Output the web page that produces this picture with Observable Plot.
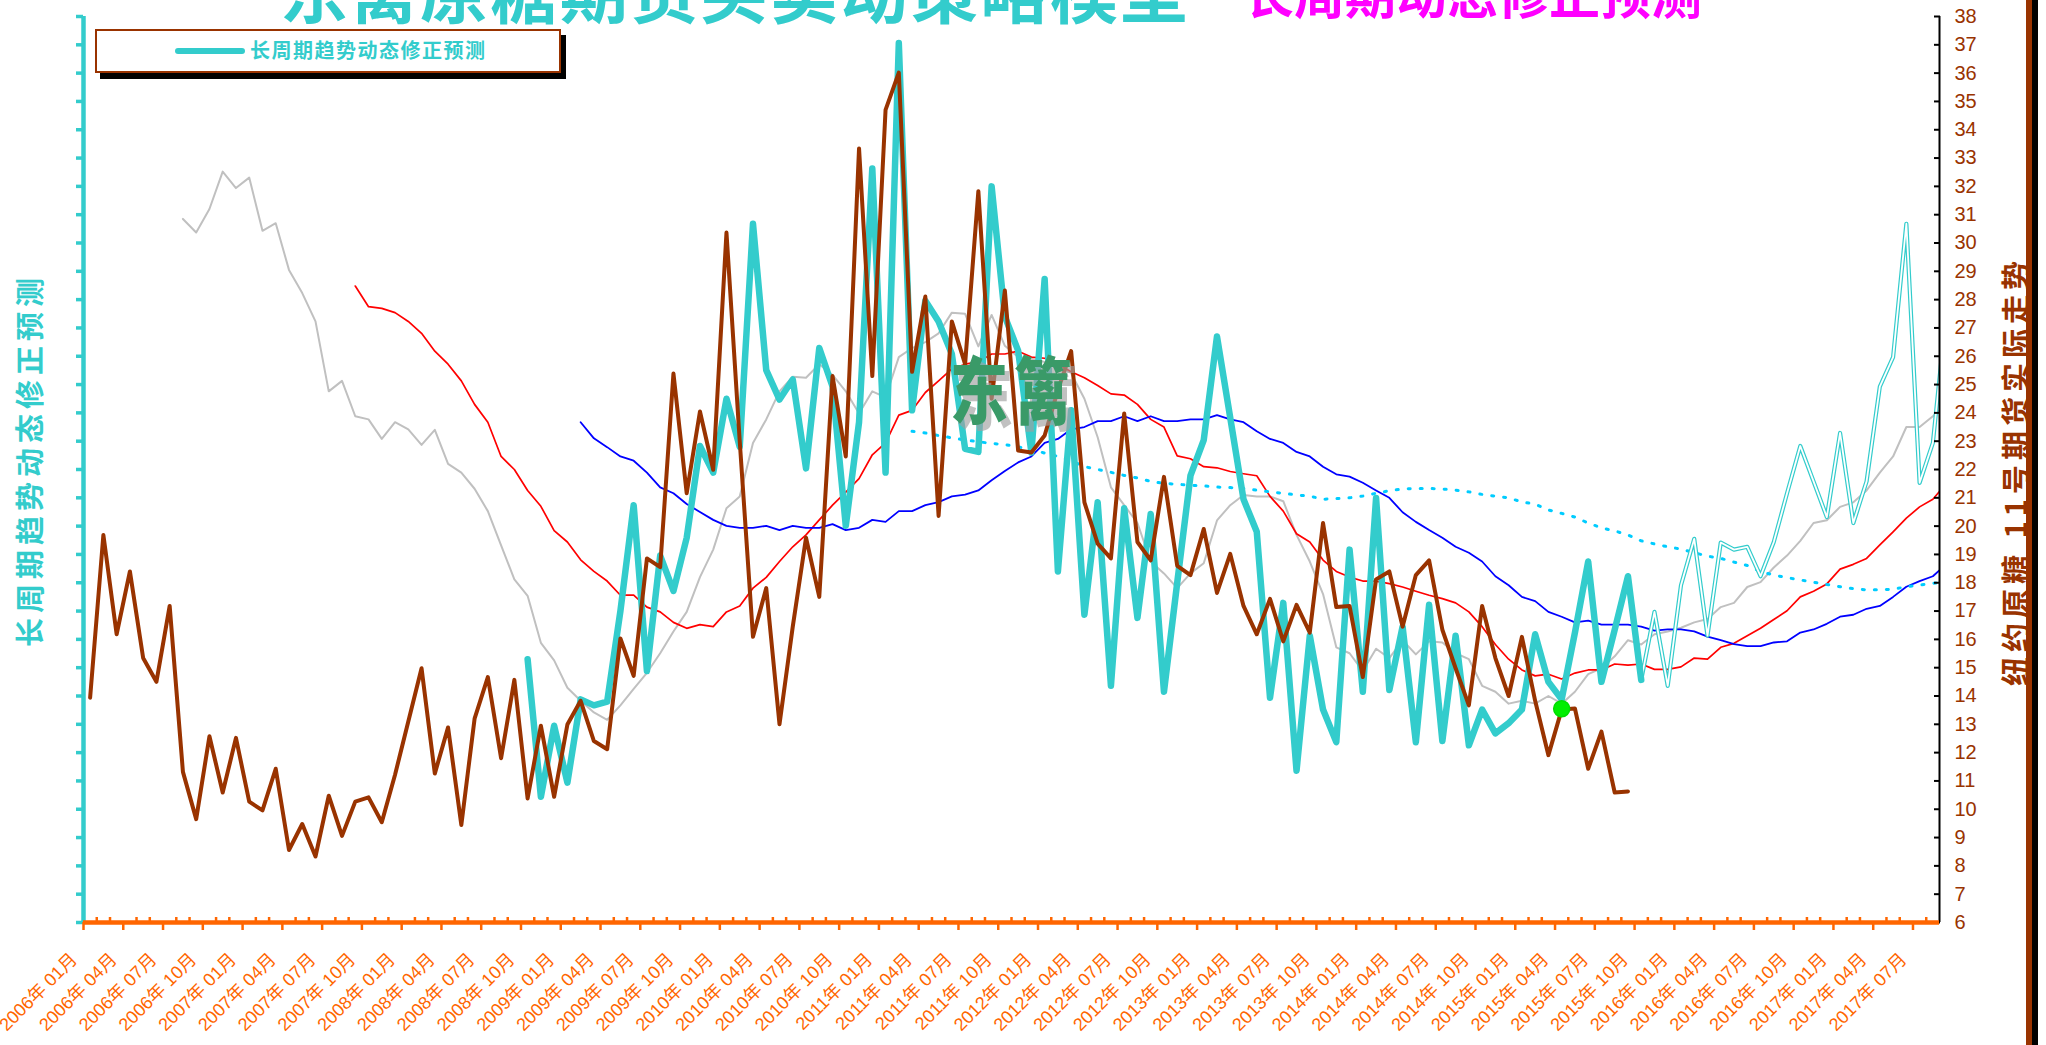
<!DOCTYPE html>
<html>
<head>
<meta charset="utf-8">
<script src="https://cdn.jsdelivr.net/npm/d3@7"></script>
<script src="https://cdn.jsdelivr.net/npm/@observablehq/plot@0.6"></script>
<style>
  html, body { margin: 0; padding: 0; background: #fff; overflow: hidden; }
  #wrap { position: relative; width: 2046px; height: 1045px; overflow: hidden; background: #fff;
          font-family: "Noto Sans CJK SC", "Liberation Sans", sans-serif; }
  #chart { position: absolute; left: 0; top: 0; }
  .abs { position: absolute; white-space: nowrap; line-height: 1; }
  #t1 { left: 280px; top: -45px; font-size: 68px; font-weight: 700; color: #33CCCC; letter-spacing: 2px; }
  #t2 { left: 1243px; top: -33px; font-size: 51px; font-weight: 700; color: #FF00FF; }
  #legend { position: absolute; left: 95px; top: 29px; width: 462px; height: 40px; background: #fff;
            border: 2px solid #993300; box-shadow: 5px 6px 0 #000; }
  #legline { position: absolute; left: 78px; top: 17px; width: 70px; height: 6px; border-radius: 3px; background: #33CCCC; }
  #legtext { position: absolute; left: 153px; top: 9px; font-size: 20px; font-weight: 700; color: #33CCCC; letter-spacing: 1.5px; line-height: 1; }
  #ytl { left: 28px; top: 460px; transform: translate(-50%, -50%) rotate(-90deg); font-size: 29px; font-weight: 700;
         color: #33CCCC; letter-spacing: 5px; }
  #ytr { left: 2014px; top: 471px; transform: translate(-50%, -50%) rotate(-90deg); font-size: 29px; font-weight: 700;
         color: #993300; letter-spacing: 5px; }
  #wm { left: 950px; top: 350px; font-size: 58px; font-weight: 900; color: #3a9a68; letter-spacing: 6px;
        transform: scaleY(1.25); transform-origin: top left; text-shadow: 5px 5px 0 rgba(160,160,160,0.65); }
  #barB { position: absolute; left: 2026px; top: 0; width: 6px; height: 1045px; background: #993300; }
  #barK { position: absolute; left: 2032px; top: 0; width: 6px; height: 1045px; background: #000; }
</style>
</head>
<body>
<div id="wrap">
  <div id="chart"></div>
  <div class="abs" id="t1">东篱原糖期货买卖动策略模型</div>
  <div class="abs" id="t2">长周期动态修正预测</div>
  <div id="legend"><div id="legline"></div><div id="legtext">长周期趋势动态修正预测</div></div>
  <div class="abs" id="ytl">长周期趋势动态修正预测</div>
  <div class="abs" id="ytr">纽约原糖 11号期货实际走势</div>
  <div class="abs" id="wm">东篱</div>
  <div id="barB"></div><div id="barK"></div>
</div>
<script>
// ---- month categories: index 0 = 2006-01 ----
const xDomain = [-0.5, 139.5];
const yDomain = [6, 38];
const yTicks = d3.range(6, 39);

const xTickLabels = [
  "2006年 01月","2006年 04月","2006年 07月","2006年 10月",
  "2007年 01月","2007年 04月","2007年 07月","2007年 10月",
  "2008年 01月","2008年 04月","2008年 07月","2008年 10月",
  "2009年 01月","2009年 04月","2009年 07月","2009年 10月",
  "2010年 01月","2010年 04月","2010年 07月","2010年 10月",
  "2011年 01月","2011年 04月","2011年 07月","2011年 10月",
  "2012年 01月","2012年 04月","2012年 07月","2012年 10月",
  "2013年 01月","2013年 04月","2013年 07月","2013年 10月",
  "2014年 01月","2014年 04月","2014年 07月","2014年 10月",
  "2015年 01月","2015年 04月","2015年 07月","2015年 10月",
  "2016年 01月","2016年 04月","2016年 07月","2016年 10月",
  "2017年 01月","2017年 04月","2017年 07月"
];

// 纽约原糖 11号 实际走势 (starts 2006-01)
const actualStart = 0;
const actual = [
  13.94,19.69,16.18,18.4,15.34,14.5,17.18,11.32,9.65,12.58,
  10.59,12.52,10.27,9.96,11.43,8.56,9.48,8.33,10.48,9.06,
  10.27,10.42,9.54,11.22,13.1,14.98,11.26,12.89,9.44,13.2,
  14.67,11.8,14.57,10.38,12.95,10.44,12.99,13.83,12.41,12.12,
  16.03,14.71,18.86,18.55,25.39,21.16,24.05,21.99,30.37,23.0,
  16.09,17.81,13.0,16.45,19.59,17.5,25.3,22.46,33.34,25.3,
  34.7,36.02,25.45,28.11,20.36,27.23,25.72,31.83,24.5,28.32,
  22.67,22.6,23.2,24.8,26.18,20.84,19.38,18.86,23.98,19.44,
  18.79,21.74,18.6,18.27,19.9,17.64,19.02,17.18,16.18,17.43,
  15.93,17.22,16.24,20.11,17.14,17.18,14.67,18.12,18.4,16.45,
  18.27,18.79,16.34,14.98,13.67,17.18,15.34,14.0,16.09,13.83,
  11.91,13.52,13.56,11.43,12.74,10.59,10.63
];

// 长周期趋势动态修正预测 (thick, starts 2008-10)
const forecastStart = 33;
const forecast = [
  15.3,10.44,12.95,10.94,13.88,13.67,13.8,
  17.0,20.74,14.88,18.96,17.71,19.59,22.83,21.89,24.5,22.8,
  30.68,25.51,24.47,25.18,22.04,26.29,24.93,20.01,23.67,32.63,
  21.89,37.06,24.09,27.96,27.23,26.08,22.73,22.62,32.0,27.4,
  26.2,22.6,28.73,18.4,24.09,16.87,20.84,14.36,20.63,16.76,
  20.43,14.15,18.0,21.78,23.04,26.7,23.83,20.95,19.8,13.94,
  17.29,11.36,16.13,13.52,12.37,19.17,14.15,20.99,14.21,16.45,
  12.37,17.22,12.41,16.13,12.26,13.52,12.68,13.04,13.52,16.18,
  14.5,13.88,16.24,18.75,14.5,16.34,18.23,14.57
];

// forward projection (double outline line, starts 2015-10)
const projectionStart = 117;
const projection = [
  14.57,16.97,14.36,17.91,19.55,16.13,19.42,19.17,19.27,18.23,
  19.44,21.16,22.83,21.58,20.32,23.29,20.11,21.58,24.93,25.97,
  30.68,21.53,22.94,27.5
];

// gray average (starts 2006-08)
const grayStart = 7;
const gray = [
  30.85,30.37,31.2,
  32.52,31.94,32.31,30.43,30.7,29.05,28.23,27.23,24.76,25.13,
  23.88,23.77,23.08,23.67,23.42,22.87,23.4,22.2,21.89,21.32,
  20.53,19.32,18.12,17.54,15.88,15.26,14.29,13.83,13.42,13.16,
  13.67,14.25,14.82,15.51,16.28,16.97,18.2,19.17,20.63,21.05,
  22.94,23.77,24.76,25.28,25.24,25.72,25.34,24.76,23.98,24.76,
  24.55,25.97,26.29,26.5,26.81,27.54,27.5,26.35,27.46,26.37,
  25.97,25.9,25.8,25.7,25.4,24.5,23.14,21.37,20.74,20.11,
  18.75,18.33,17.81,18.33,18.69,20.2,20.74,21.1,21.05,21.05,
  20.88,19.69,18.75,17.6,15.72,15.51,14.88,15.67,15.34,15.97,
  15.47,15.93,15.89,15.51,15.3,14.36,14.15,13.73,13.83,13.73,
  14.0,13.73,14.15,14.77,14.98,15.4,15.97,15.82,16.18,16.28,
  16.41,16.6,16.72,17.14,17.29,17.85,18.02,18.54,18.96,19.48,
  20.11,20.21,20.68,20.84,21.26,21.89,22.46,23.5,23.5,23.88,
  24.3
];

// red average (starts 2007-09)
const redStart = 20;
const red = [
  28.48,27.75,27.69,27.54,27.23,26.81,26.18,25.72,25.13,24.3,
  23.67,22.46,22.0,21.26,20.7,19.84,19.44,18.81,18.4,18.06,
  17.56,17.56,17.14,16.97,16.6,16.39,16.52,16.45,16.97,17.18,
  17.81,18.19,18.75,19.27,19.69,20.22,20.74,21.2,21.68,22.52,
  22.94,23.92,24.09,24.72,25.13,25.55,25.72,25.8,26.08,26.08,
  26.18,25.97,25.93,25.72,25.45,25.24,24.97,24.67,24.63,24.3,
  23.77,23.5,22.48,22.38,22.1,22.06,21.93,21.85,21.78,21.05,
  20.53,19.73,19.44,18.8,18.4,18.2,18.06,18.06,17.97,17.85,
  17.7,17.56,17.44,17.29,16.97,16.45,15.82,15.3,14.92,14.71,
  14.77,14.6,14.81,14.92,14.92,15.13,15.09,15.13,14.94,14.94,
  15.03,15.34,15.3,15.72,15.86,16.13,16.39,16.7,17.01,17.5,
  17.7,17.96,18.48,18.65,18.86,19.34,19.8,20.28,20.68,20.95,
  21.5
];

// blue average (starts 2009-02)
const blueStart = 37;
const blue = [
  23.67,23.1,22.79,
  22.46,22.31,21.89,21.37,21.16,20.78,20.5,20.22,20.01,19.94,
  19.94,20.01,19.86,20.01,19.94,19.94,20.07,19.86,19.94,20.22,
  20.15,20.53,20.53,20.74,20.85,21.05,21.11,21.26,21.62,21.95,
  22.25,22.46,22.94,23.08,23.42,23.5,23.71,23.71,23.88,23.71,
  23.88,23.71,23.71,23.77,23.77,23.92,23.77,23.67,23.35,23.08,
  22.94,22.62,22.46,22.1,21.83,21.75,21.53,21.26,21.0,20.49,
  20.15,19.86,19.59,19.27,19.06,18.75,18.23,17.91,17.5,17.35,
  16.97,16.8,16.6,16.66,16.52,16.52,16.52,16.45,16.31,16.35,
  16.35,16.28,16.1,15.97,15.83,15.76,15.76,15.89,15.93,16.24,
  16.35,16.55,16.8,16.87,17.08,17.18,17.5,17.86,18.06,18.23,
  18.65
];

// cyan dotted average (starts 2011-03)
const dottedStart = 62;
const dotted = [
  23.35,23.29,23.2,23.12,23.04,22.98,22.92,22.88,
  22.8,22.71,22.58,22.46,22.31,22.1,22.0,21.9,21.79,21.7,
  21.58,21.51,21.48,21.44,21.42,21.38,21.36,21.33,21.27,21.21,
  21.16,21.1,21.06,20.95,20.97,21.0,21.06,21.16,21.25,21.31,
  21.33,21.33,21.31,21.27,21.21,21.12,21.06,21.0,20.85,20.78,
  20.57,20.45,20.32,20.11,19.94,19.83,19.69,19.48,19.37,19.27,
  19.19,19.06,18.94,18.86,18.73,18.61,18.4,18.27,18.18,18.1,
  18.02,17.94,17.86,17.79,17.75,17.75,17.77,17.86,17.92,17.98,
  18.02
];

// green signal point
const signalIndex = [111];
const signalValue = [13.55];

// ---- build tables ----
const rows = (start, arr) => arr.map((v, k) => ({i: start + k, v}));
const labelRows = xTickLabels.map((label, k) => ({i: k * 3, label}));
const majorBounds = d3.range(0, 141, 3).map(i => i - 0.5);
const minorBounds = d3.range(0, 140).filter(i => i % 3 !== 0).map(i => i - 0.5);
const signalRows = signalIndex.map((i, k) => ({i, v: signalValue[k]}));

const ORANGE = "#FF6600", TEAL = "#33CCCC", BROWN = "#993300";
const L = {x: "i", y: "v", clip: true};

const chart = Plot.plot({
  width: 2046,
  height: 1045,
  marginLeft: 83,
  marginRight: 107,
  marginTop: 16,
  marginBottom: 123,
  style: {background: "transparent", fontFamily: "'Liberation Sans', 'Noto Sans CJK SC', sans-serif"},
  x: {type: "linear", domain: xDomain, axis: null},
  y: {type: "linear", domain: yDomain, axis: null},
  marks: [
    Plot.line(rows(grayStart, gray), {...L, stroke: "#C0C0C0", strokeWidth: 2}),
    Plot.line(rows(redStart, red), {...L, stroke: "#FF0000", strokeWidth: 1.7}),
    Plot.line(rows(blueStart, blue), {...L, stroke: "#0000FF", strokeWidth: 1.8}),
    Plot.line(rows(dottedStart, dotted), {...L, stroke: "#00CCFF", strokeWidth: 3, strokeDasharray: "2,10"}),
    Plot.line(rows(projectionStart, projection), {...L, stroke: TEAL, strokeWidth: 4.2}),
    Plot.line(rows(projectionStart, projection), {...L, stroke: "#FFFFFF", strokeWidth: 1.8}),
    Plot.line(rows(forecastStart, forecast), {...L, stroke: TEAL, strokeWidth: 6.5}),
    Plot.line(rows(actualStart, actual), {...L, stroke: BROWN, strokeWidth: 4}),
    Plot.dot(signalRows, {x: "i", y: "v", r: 8, fill: "#00EE00", stroke: "#00DD00"}),

    // left axis (teal, ticks only)
    Plot.ruleX([xDomain[0]], {stroke: TEAL, strokeWidth: 4.5}),
    Plot.axisY({anchor: "left", ticks: yTicks, tickSize: 7, tickFormat: () => "", stroke: TEAL, strokeWidth: 3.5, label: null}),

    // right axis (black, inward ticks, brown labels)
    Plot.ruleX([xDomain[1]], {stroke: "#000", strokeWidth: 2}),
    Plot.axisY({anchor: "right", ticks: yTicks, tickSize: 6, dx: -6, tickFormat: () => "", stroke: "#000", strokeWidth: 2, label: null}),
    Plot.axisY({anchor: "right", ticks: yTicks, tickSize: 0, tickPadding: 15, fill: BROWN, fontSize: 20, label: null}),

    // bottom axis (orange)
    Plot.ruleY([yDomain[0]], {stroke: ORANGE, strokeWidth: 4.5}),
    Plot.axisX({anchor: "bottom", ticks: majorBounds, tickSize: 8, tickFormat: () => "", stroke: ORANGE, strokeWidth: 2.5, label: null}),
    Plot.axisX({anchor: "bottom", ticks: minorBounds, tickSize: 5, dy: -5, tickFormat: () => "", stroke: ORANGE, strokeWidth: 2.5, label: null}),
    Plot.text(labelRows, {x: "i", frameAnchor: "bottom", text: "label", rotate: -45, textAnchor: "end",
                          dx: -12, dy: 38, fill: ORANGE, fontSize: 18})
  ]
});
document.getElementById("chart").appendChild(chart);
</script>
</body>
</html>
